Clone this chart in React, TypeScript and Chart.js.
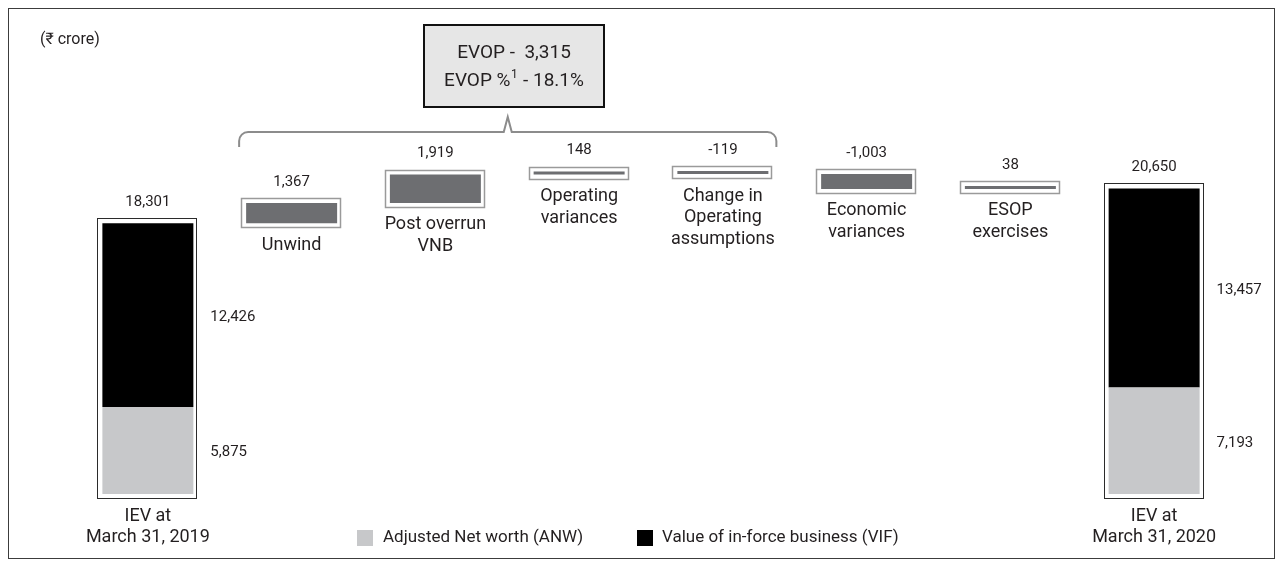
import React, { useEffect, useRef } from 'react';
import { Chart, registerables } from 'chart.js';

Chart.register(...registerables);

// ---------- data ----------
const categories: string[][] = [
  ['IEV at', 'March 31, 2019'],
  ['Unwind'],
  ['Post overrun', 'VNB'],
  ['Operating', 'variances'],
  ['Change in', 'Operating', 'assumptions'],
  ['Economic', 'variances'],
  ['ESOP', 'exercises'],
  ['IEV at', 'March 31, 2020'],
];
const openingANW = 5875;
const openingVIF = 12426;
const openingTotal = 18301;
const changes = [1367, 1919, 148, -119, -1003, 38];
const closingANW = 7193;
const closingVIF = 13457;
const closingTotal = 20650;
const evopValue = '3,315';
const evopPct = '18.1%';
const unitLabel = '(₹ crore)';
const seriesNames = ['Adjusted Net worth (ANW)', 'Value of in-force business (VIF)'];

// ---------- styles ----------
const TEXT = '#231f20';
const FONT = 'Roboto, "Noto Sans", "DejaVu Sans", sans-serif';
const C_ANW = '#c7c8ca';
const C_VIF = '#000000';
const C_DELTA = '#6d6e71';

const fmt = (v: number) => v.toLocaleString('en-US');

const n = categories.length;
const anwData: any[] = Array(n).fill(null);
const vifData: any[] = Array(n).fill(null);
const deltaData: any[] = Array(n).fill(null);
anwData[0] = [0, openingANW];
vifData[0] = [openingANW, openingANW + openingVIF];
anwData[n - 1] = [0, closingANW];
vifData[n - 1] = [closingANW, closingANW + closingVIF];
let run = openingTotal;
changes.forEach((c, i) => {
  deltaData[i + 1] = [run, run + c];
  run += c;
});
const valueLabels = [openingTotal, ...changes, closingTotal].map(fmt);

const overlay = {
  id: 'overlay',
  afterDatasetsDraw(chart: any) {
    const ctx: CanvasRenderingContext2D = chart.ctx;
    const dsets = chart.data.datasets;
    const boxes = categories.map((_, i) => {
      let l = Infinity, r = -Infinity, t = Infinity, b = -Infinity;
      dsets.forEach((ds: any, d: number) => {
        if (ds.data[i] == null) return;
        const el = chart.getDatasetMeta(d).data[i];
        const p = el.getProps(['x', 'y', 'base', 'width'], true);
        l = Math.min(l, p.x - p.width / 2);
        r = Math.max(r, p.x + p.width / 2);
        t = Math.min(t, p.y, p.base);
        b = Math.max(b, p.y, p.base);
      });
      return { l, r, t, b };
    });

    ctx.save();
    // frames
    boxes.forEach((bx, i) => {
      const total = i === 0 || i === n - 1;
      ctx.strokeStyle = total ? '#2b2b2b' : '#9a9a9a';
      ctx.lineWidth = total ? 1 : 1.5;
      const l = Math.round(bx.l) - 4.5;
      const t = Math.round(bx.t) - 4.5;
      const r = Math.round(bx.r) + 3.5;
      const b = Math.round(bx.b) + 4.5;
      ctx.strokeRect(l, t, r - l, b - t);
    });

    // value labels
    ctx.fillStyle = TEXT;
    ctx.textAlign = 'center';
    ctx.textBaseline = 'middle';
    ctx.font = `15px ${FONT}`;
    boxes.forEach((bx, i) => {
      ctx.fillText(valueLabels[i], (bx.l + bx.r) / 2, bx.t - 21);
    });

    // category labels
    ctx.font = `18px ${FONT}`;
    boxes.forEach((bx, i) => {
      categories[i].forEach((line, k) => {
        ctx.fillText(line, (bx.l + bx.r) / 2, bx.b + 22 + k * 21.5);
      });
    });

    // segment labels for total bars
    ctx.font = `15px ${FONT}`;
    ctx.textAlign = 'left';
    [0, n - 1].forEach((i) => {
      [0, 1].forEach((d) => {
        const el = chart.getDatasetMeta(d).data[i];
        const p = el.getProps(['x', 'y', 'base', 'width'], true);
        const raw = dsets[d].data[i];
        ctx.fillText(fmt(raw[1] - raw[0]), p.x + p.width / 2 + 17, (p.y + p.base) / 2 + 2);
      });
    });

    // unit label
    ctx.font = `16px ${FONT}`;
    ctx.fillText(unitLabel, 31, 31);

    // bracket over EVOP components
    const bl = boxes[1].l - 7;
    const br = boxes[4].r + 8;
    const by = 123;
    const bEnd = 138;
    const mid = (bl + br) / 2;
    const rad = 9;
    ctx.strokeStyle = '#8c8c8c';
    ctx.lineWidth = 2;
    ctx.beginPath();
    ctx.moveTo(bl, bEnd);
    ctx.arcTo(bl, by, bl + rad, by, rad);
    ctx.lineTo(mid - 4, by);
    ctx.lineTo(mid, by - 15);
    ctx.lineTo(mid + 4, by);
    ctx.arcTo(br, by, br, by + rad, rad);
    ctx.lineTo(br, bEnd);
    ctx.stroke();

    // EVOP box
    const boxL = 415, boxT = 16, boxW = 180, boxH = 82;
    ctx.fillStyle = '#e6e6e6';
    ctx.fillRect(boxL, boxT, boxW, boxH);
    ctx.strokeStyle = '#111';
    ctx.lineWidth = 2;
    ctx.strokeRect(boxL, boxT, boxW, boxH);
    const cx = boxL + boxW / 2;
    ctx.fillStyle = TEXT;
    ctx.textAlign = 'center';
    ctx.font = `19px ${FONT}`;
    ctx.fillText(`EVOP -  ${evopValue}`, cx, 44);
    const p1 = 'EVOP %';
    const p2 = ` - ${evopPct}`;
    ctx.font = `19px ${FONT}`;
    const w1 = ctx.measureText(p1).width;
    const w3 = ctx.measureText(p2).width;
    ctx.font = `12px ${FONT}`;
    const w2 = ctx.measureText('1').width + 1;
    const sx = cx - (w1 + w2 + w3) / 2;
    ctx.textAlign = 'left';
    ctx.font = `19px ${FONT}`;
    ctx.fillText(p1, sx, 72);
    ctx.font = `12px ${FONT}`;
    ctx.fillText('1', sx + w1 + 0.5, 66);
    ctx.font = `19px ${FONT}`;
    ctx.fillText(p2, sx + w1 + w2, 72);

    // legend
    const ly = 529;
    ctx.font = `17px ${FONT}`;
    ctx.fillStyle = dsets[0].backgroundColor;
    ctx.fillRect(348, ly - 8, 16, 16);
    ctx.fillStyle = TEXT;
    ctx.fillText(seriesNames[0], 374, ly);
    ctx.fillStyle = dsets[1].backgroundColor;
    ctx.fillRect(628, ly - 8, 16, 16);
    ctx.fillStyle = TEXT;
    ctx.fillText(seriesNames[1], 653, ly);
    ctx.restore();
  },
};

export default function App() {
  const ref = useRef<HTMLCanvasElement | null>(null);
  useEffect(() => {
    if (!ref.current) return;
    const chart = new Chart(ref.current, {
      type: 'bar',
      data: {
        labels: categories.map((c) => c.join(' ')),
        datasets: [
          { label: seriesNames[0], data: anwData, backgroundColor: C_ANW, grouped: false } as any,
          { label: seriesNames[1], data: vifData, backgroundColor: C_VIF, grouped: false } as any,
          { label: 'Change', data: deltaData, backgroundColor: C_DELTA, grouped: false, minBarLength: 3 } as any,
        ],
      },
      options: {
        animation: false,
        responsive: true,
        maintainAspectRatio: false,
        layout: { padding: { left: 67, right: 48, top: 41, bottom: 64 } },
        datasets: { bar: { categoryPercentage: 1, barPercentage: 0.633, borderWidth: 0 } },
        plugins: { legend: { display: false }, tooltip: { enabled: false } },
        scales: {
          x: { display: false, offset: true },
          y: { display: false, min: 0, max: 30000 },
        },
      } as any,
      plugins: [overlay],
    });
    return () => chart.destroy();
  }, []);
  return (
    <div
      style={{
        width: 1267,
        height: 551,
        border: '1px solid #3c3c3c',
        boxSizing: 'border-box',
        position: 'relative',
        background: '#fff',
      }}
    >
      <div style={{ position: 'absolute', left: 0, top: 0, width: 1265, height: 549 }}>
        <canvas ref={ref} />
      </div>
    </div>
  );
}
